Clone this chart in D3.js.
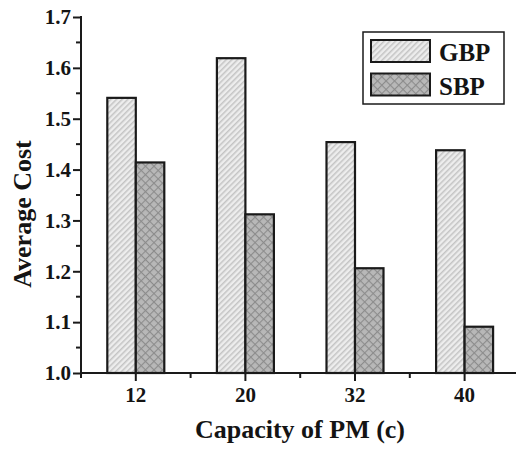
<!DOCTYPE html>
<html>
<head>
<meta charset="utf-8">
<script src="https://cdn.jsdelivr.net/npm/d3@7"></script>
<style>
  body { margin: 0; background: #fff; }
  text { font-family: "Liberation Serif", "Times New Roman", serif; font-weight: bold; fill: #141414; }
</style>
</head>
<body>
<div id="chart"></div>
<script>
const categories = ["12", "20", "32", "40"];
const seriesNames = ["GBP", "SBP"];
const gbpValues = [1.541, 1.619, 1.454, 1.438];
const sbpValues = [1.414, 1.312, 1.206, 1.091];
const yTicks = [1.0, 1.1, 1.2, 1.3, 1.4, 1.5, 1.6, 1.7];

const width = 516;
const height = 450;
const plotLeft = 81, plotTop = 17, plotBottom = 373;
const serif = "Liberation Serif, Times New Roman, serif";

const svg = d3.select("#chart")
	.append("svg")
	.attr("width", width)
	.attr("height", height);

// hatch patterns
const defs = svg.append("defs");

const pGbp = defs.append("pattern")
	.attr("id", "hatch-gbp")
	.attr("patternUnits", "userSpaceOnUse")
	.attr("width", 4)
	.attr("height", 4)
	.attr("patternTransform", "rotate(45)");
pGbp.append("rect").attr("width", 4).attr("height", 4).attr("fill", "#ededed");
pGbp.append("line")
	.attr("x1", 0.75).attr("y1", 0).attr("x2", 0.75).attr("y2", 4)
	.style("stroke", "#c4c4c4")
	.style("stroke-width", 1.5);

const pSbp = defs.append("pattern")
	.attr("id", "hatch-sbp")
	.attr("patternUnits", "userSpaceOnUse")
	.attr("width", 6)
	.attr("height", 6)
	.attr("patternTransform", "rotate(45)");
pSbp.append("rect").attr("width", 6).attr("height", 6).attr("fill", "#b8b8b8");
pSbp.append("line")
	.attr("x1", 0.5).attr("y1", 0).attr("x2", 0.5).attr("y2", 6)
	.style("stroke", "#8c8c8c").style("stroke-width", 1.2);
pSbp.append("line")
	.attr("x1", 0).attr("y1", 0.5).attr("x2", 6).attr("y2", 0.5)
	.style("stroke", "#8c8c8c").style("stroke-width", 1.2);

const fills = ["url(#hatch-gbp)", "url(#hatch-sbp)"];

const x = d3.scaleBand()
	.domain(categories)
	.range([plotLeft, plotLeft + 4 * 109.6])
	.padding(0);

const x1 = d3.scaleBand()
	.domain(seriesNames)
	.range([0, 57])
	.padding(0);

const y = d3.scaleLinear()
	.domain([1.0, 1.7])
	.range([plotBottom, plotTop]);

const table = categories.map(function (c, i) {
	return { cat: c, values: [gbpValues[i], sbpValues[i]] };
});

// bars
const groups = svg.append("g")
	.attr("class", "bars")
	.selectAll("g")
	.data(table)
	.enter()
	.append("g")
	.attr("transform", function (d) {
		return "translate(" + (x(d.cat) + x.bandwidth() / 2 - 28.5) + ",0)";
	});

groups.selectAll("rect")
	.data(function (d) {
		return d.values.map(function (v, j) { return { name: seriesNames[j], value: v, j: j }; });
	})
	.enter()
	.append("rect")
	.attr("x", function (d) { return x1(d.name); })
	.attr("y", function (d) { return y(d.value); })
	.attr("width", x1.bandwidth())
	.attr("height", function (d) { return y(1.0) - y(d.value); })
	.attr("fill", function (d) { return fills[d.j]; })
	.style("stroke", "#1a1a1a")
	.style("stroke-width", 2.2);

// y axis
const yAxis = d3.axisLeft(y)
	.tickValues(yTicks)
	.tickFormat(d3.format(".1f"))
	.tickSize(8)
	.tickPadding(2)
	.tickSizeOuter(0);

const yg = svg.append("g")
	.attr("transform", "translate(" + plotLeft + ",0)")
	.call(yAxis)
	.attr("font-family", serif)
	.attr("font-size", 21)
	.attr("font-weight", "bold");
yg.select(".domain").remove();
yg.selectAll(".tick line").style("stroke", "#1a1a1a").style("stroke-width", 2);
yg.selectAll(".tick text").style("fill", "#141414");

// minor y ticks
svg.append("g")
	.selectAll("line")
	.data(yTicks.slice(0, -1).map(function (v) { return v + 0.05; }))
	.enter()
	.append("line")
	.attr("x1", plotLeft - 5)
	.attr("x2", plotLeft)
	.attr("y1", function (d) { return y(d); })
	.attr("y2", function (d) { return y(d); })
	.style("stroke", "#1a1a1a")
	.style("stroke-width", 2);

svg.append("line")
	.attr("x1", plotLeft).attr("x2", plotLeft)
	.attr("y1", y(1.7) - 1).attr("y2", y(1.0) + 5)
	.style("stroke", "#1a1a1a")
	.style("stroke-width", 2);

// x axis
const xAxis = d3.axisBottom(x)
	.tickSize(8)
	.tickPadding(6)
	.tickSizeOuter(0);

const xg = svg.append("g")
	.attr("transform", "translate(0," + plotBottom + ")")
	.call(xAxis)
	.attr("font-family", serif)
	.attr("font-size", 21)
	.attr("font-weight", "bold");
xg.select(".domain").remove();
xg.selectAll(".tick line").style("stroke", "#1a1a1a").style("stroke-width", 2);
xg.selectAll(".tick text").style("fill", "#141414");

svg.append("line")
	.attr("x1", plotLeft).attr("x2", width)
	.attr("y1", plotBottom).attr("y2", plotBottom)
	.style("stroke", "#1a1a1a")
	.style("stroke-width", 2);

// minor x ticks at band edges
svg.append("g")
	.selectAll("line")
	.data(categories.slice(1))
	.enter()
	.append("line")
	.attr("x1", function (d) { return x(d); })
	.attr("x2", function (d) { return x(d); })
	.attr("y1", plotBottom)
	.attr("y2", plotBottom + 5)
	.style("stroke", "#1a1a1a")
	.style("stroke-width", 2);

// axis titles
svg.append("text")
	.attr("x", 300)
	.attr("y", 438)
	.attr("text-anchor", "middle")
	.style("font-size", "26px")
	.text("Capacity of PM (c)");

svg.append("text")
	.attr("transform", "translate(31,214) rotate(-90)")
	.attr("text-anchor", "middle")
	.style("font-size", "26px")
	.text("Average Cost");

// legend
const legend = svg.append("g").attr("class", "legend");
legend.append("rect")
	.attr("x", 363).attr("y", 32)
	.attr("width", 141).attr("height", 72)
	.attr("fill", "#fff")
	.style("stroke", "#1a1a1a")
	.style("stroke-width", 1.5);

const items = legend.selectAll(".item")
	.data(seriesNames)
	.enter()
	.append("g")
	.attr("class", "item")
	.attr("transform", function (d, i) { return "translate(0," + (i * 33.5) + ")"; });

items.append("rect")
	.attr("x", 371).attr("y", 40)
	.attr("width", 59).attr("height", 22)
	.attr("fill", function (d, i) { return fills[i]; })
	.style("stroke", "#1a1a1a")
	.style("stroke-width", 2);

items.append("text")
	.attr("x", 439)
	.attr("y", 61)
	.style("font-size", "25px")
	.text(function (d) { return d; });
</script>
</body>
</html>
